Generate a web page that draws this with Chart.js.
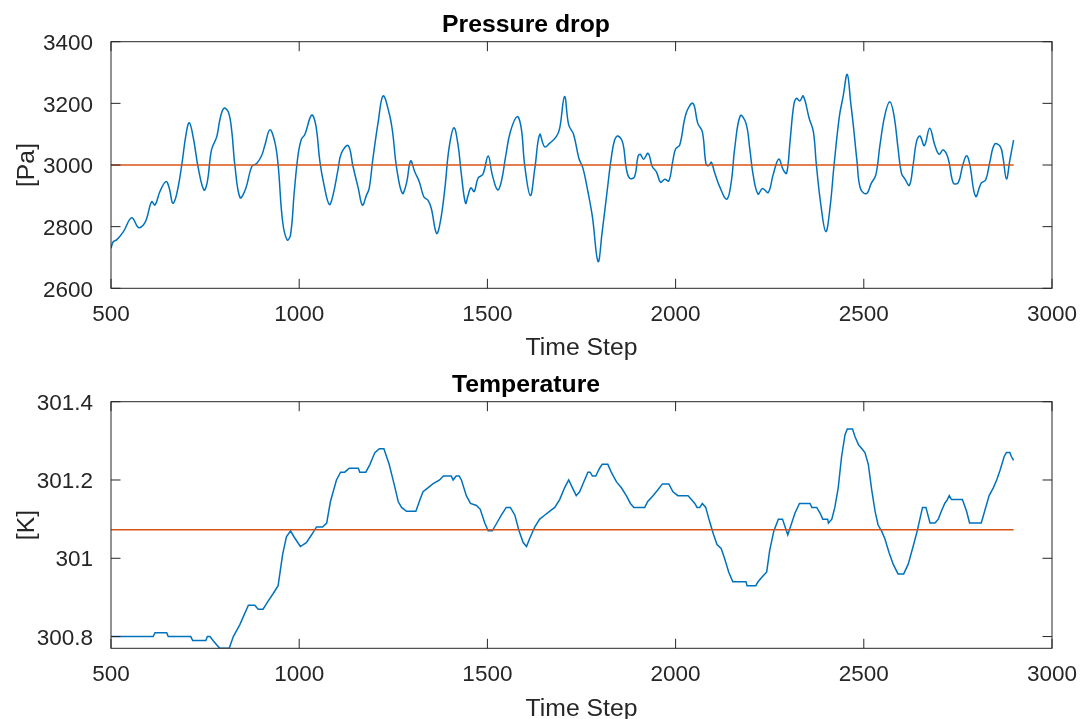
<!DOCTYPE html>
<html>
<head>
<meta charset="utf-8">
<script src="https://cdn.jsdelivr.net/npm/chart.js@4.4.1/dist/chart.umd.min.js"></script>
<style>
    body { margin: 0; background: #fff; }
    .panel { position: absolute; left: 0; width: 1081px; height: 360px; }
    #top { top: 0; }
    #bottom { top: 360px; }
</style>
</head>
<body>
<div class="panel" id="top"><canvas id="pressureChart"></canvas></div>
<div class="panel" id="bottom"><canvas id="tempChart"></canvas></div>
<script>
// time axis ticks shared by both plots
const stepTicks = [500, 1000, 1500, 2000, 2500, 3000];

// pressure drop [Pa]
const pressureSteps = [500, 506, 515, 533, 555, 573, 586, 595, 608, 617, 630, 646, 655, 664, 674, 688, 699, 708, 719, 732,
    747, 756, 767, 781, 790, 800, 812, 821, 829, 843, 858, 874, 887, 900, 909, 922, 935, 944, 956, 968,
    977, 987, 997, 1006, 1015, 1033, 1044, 1055, 1066, 1080, 1090, 1103, 1112, 1130, 1143, 1157, 1168, 1179, 1186, 1196,
    1210, 1223, 1239, 1248, 1259, 1274, 1285, 1296, 1307, 1319, 1331, 1342, 1351, 1365, 1375, 1387, 1398, 1411, 1422, 1431,
    1442, 1449, 1456, 1465, 1475, 1488, 1502, 1513, 1527, 1537, 1549, 1561, 1579, 1590, 1599, 1614, 1626, 1639, 1652, 1665,
    1683, 1692, 1705, 1716, 1729, 1743, 1754, 1767, 1779, 1794, 1805, 1818, 1829, 1838, 1847, 1860, 1869, 1878, 1891, 1900,
    1906, 1915, 1927, 1938, 1949, 1960, 1971, 1982, 1993, 2000, 2011, 2028, 2046, 2059, 2071, 2081, 2088, 2095, 2103, 2117,
    2136, 2148, 2157, 2172, 2187, 2197, 2206, 2219, 2231, 2246, 2259, 2274, 2286, 2295, 2304, 2314, 2321, 2330, 2339, 2355,
    2366, 2374, 2386, 2399, 2410, 2421, 2435, 2445, 2456, 2465, 2473, 2482, 2491, 2507, 2520, 2532, 2543, 2556, 2569, 2580,
    2591, 2600, 2609, 2621, 2631, 2640, 2649, 2661, 2675, 2689, 2700, 2711, 2724, 2738, 2751, 2763, 2773, 2781, 2797, 2812,
    2824, 2835, 2848, 2863, 2870, 2879, 2888, 2898];
const pressureVals = [2730, 2751, 2757, 2784, 2829, 2797, 2805, 2827, 2881, 2870, 2914, 2946, 2924, 2876, 2903, 3000, 3097, 3137, 3086, 2989,
    2919, 2946, 3049, 3092, 3151, 3184, 3171, 3108, 3000, 2894, 2924, 2995, 3005, 3030, 3065, 3114, 3076, 3000, 2816, 2757,
    2773, 2914, 3032, 3084, 3099, 3162, 3130, 3011, 2935, 2872, 2903, 2984, 3038, 3063, 2995, 2924, 2870, 2903, 2924, 3022,
    3141, 3224, 3168, 3108, 2989, 2908, 2941, 3013, 2978, 2946, 2897, 2886, 2859, 2778, 2816, 2924, 3054, 3121, 3065, 2968,
    2876, 2903, 2926, 2914, 2957, 2970, 3029, 2968, 2919, 2946, 3032, 3108, 3157, 3119, 3000, 2901, 2989, 3099, 3059, 3070,
    3092, 3119, 3222, 3130, 3099, 3022, 2989, 2914, 2832, 2687, 2784, 2914, 3022, 3081, 3094, 3070, 2989, 2957, 2962, 3027,
    3035, 3019, 3038, 2995, 2978, 2944, 2954, 2948, 3016, 3052, 3065, 3168, 3200, 3135, 3108, 3002, 2998, 3009, 2978, 2930,
    2889, 2946, 3054, 3160, 3135, 3054, 2968, 2906, 2924, 2911, 2968, 3019, 2984, 2973, 3076, 3195, 3216, 3208, 3224, 3151,
    3108, 3000, 2870, 2784, 2859, 3000, 3157, 3222, 3294, 3205, 3119, 3011, 2924, 2907, 2941, 2968, 3065, 3162, 3205, 3162,
    3054, 2973, 2955, 2934, 3000, 3076, 3094, 3063, 3119, 3063, 3035, 3049, 3022, 2941, 2943, 3000, 3030, 3005, 2898, 2941,
    2952, 3011, 3068, 3059, 3022, 2955, 3016, 3081];
const pressureMean = 3000;
const pressureTicks = [2600, 2800, 3000, 3200, 3400];

// temperature [K]
const tempSteps = [500, 612, 617, 648, 652, 712, 717, 752, 756, 763, 771, 780, 789, 814, 825, 842, 865, 882, 891, 904,
    917, 931, 944, 956, 966, 977, 986, 1003, 1019, 1033, 1046, 1062, 1073, 1083, 1099, 1110, 1121, 1133, 1157, 1161,
    1177, 1188, 1201, 1213, 1225, 1239, 1252, 1263, 1272, 1285, 1310, 1321, 1329, 1342, 1355, 1373, 1383, 1404, 1409, 1417,
    1425, 1431, 1444, 1455, 1471, 1481, 1493, 1502, 1513, 1522, 1537, 1550, 1561, 1573, 1584, 1595, 1604, 1612, 1626, 1639,
    1652, 1665, 1679, 1692, 1705, 1716, 1726, 1736, 1745, 1756, 1767, 1773, 1779, 1788, 1798, 1805, 1820, 1829, 1843, 1856,
    1869, 1880, 1889, 1918, 1926, 1940, 1953, 1965, 1982, 1993, 2006, 2033, 2042, 2051, 2057, 2064, 2071, 2080, 2090, 2101,
    2110, 2121, 2130, 2141, 2152, 2187, 2190, 2213, 2219, 2228, 2237, 2242, 2250, 2261, 2273, 2284, 2291, 2298, 2305, 2317,
    2329, 2357, 2362, 2375, 2384, 2391, 2404, 2406, 2415, 2423, 2432, 2441, 2450, 2456, 2470, 2477, 2486, 2495, 2503, 2512,
    2521, 2530, 2538, 2547, 2556, 2567, 2578, 2591, 2606, 2618, 2631, 2642, 2649, 2656, 2665, 2676, 2689, 2698, 2706, 2715,
    2722, 2727, 2733, 2762, 2773, 2781, 2812, 2821, 2833, 2844, 2853, 2862, 2873, 2879, 2888, 2892, 2898];
const tempVals = [300.80, 300.80, 300.81, 300.81, 300.80, 300.80, 300.79, 300.79, 300.80, 300.80, 300.79, 300.78, 300.77, 300.77, 300.80, 300.83, 300.88, 300.88, 300.87, 300.87,
    300.89, 300.91, 300.93, 301.01, 301.055, 301.07, 301.055, 301.03, 301.04, 301.06, 301.08, 301.08, 301.09, 301.145, 301.20, 301.22, 301.22, 301.23, 301.23, 301.22,
    301.22, 301.24, 301.27, 301.28, 301.28, 301.24, 301.19, 301.145, 301.13, 301.12, 301.12, 301.15, 301.17, 301.18, 301.19, 301.20, 301.21, 301.21, 301.20, 301.21,
    301.21, 301.20, 301.16, 301.14, 301.135, 301.125, 301.09, 301.07, 301.07, 301.085, 301.11, 301.13, 301.13, 301.11, 301.07, 301.04, 301.03, 301.05, 301.08, 301.10,
    301.11, 301.12, 301.13, 301.15, 301.18, 301.20, 301.18, 301.16, 301.17, 301.195, 301.22, 301.22, 301.21, 301.21, 301.23, 301.24, 301.24, 301.22, 301.195, 301.18,
    301.16, 301.14, 301.13, 301.13, 301.145, 301.16, 301.175, 301.19, 301.19, 301.17, 301.16, 301.16, 301.15, 301.14, 301.13, 301.13, 301.14, 301.13, 301.095, 301.06,
    301.035, 301.025, 301.00, 300.965, 300.94, 300.94, 300.93, 300.93, 300.94, 300.95, 300.96, 300.965, 301.02, 301.07, 301.10, 301.10, 301.08, 301.06, 301.08, 301.115,
    301.14, 301.14, 301.13, 301.13, 301.115, 301.10, 301.10, 301.09, 301.10, 301.13, 301.18, 301.26, 301.315, 301.33, 301.33, 301.31, 301.29, 301.28, 301.27, 301.24,
    301.175, 301.12, 301.085, 301.07, 301.05, 301.015, 300.985, 300.96, 300.96, 300.985, 301.03, 301.07, 301.10, 301.13, 301.13, 301.09, 301.09, 301.10, 301.12, 301.14,
    301.15, 301.16, 301.15, 301.15, 301.12, 301.09, 301.09, 301.12, 301.16, 301.18, 301.20, 301.225, 301.26, 301.27, 301.27, 301.26, 301.25];
const tempMean = 301.073;
const tempTicks = [300.8, 301, 301.2, 301.4];

const FONT = "'Liberation Sans', Arial, Helvetica, sans-serif";
const INK = '#262626';
const BLUE = '#0072BD';
const RED = '#D95319';
const TICK_LEN = 9.5;

// matlab style box with inward ticks on all four sides
const boxTicks = {
    id: 'boxTicks',
    afterDatasetsDraw(chart) {
        const { ctx, chartArea: a, scales: { x, y } } = chart;
        ctx.save();
        ctx.strokeStyle = INK;
        ctx.lineWidth = 1;
        ctx.beginPath();
        x.ticks.forEach(t => {
            const px = x.getPixelForValue(t.value);
            ctx.moveTo(px, a.bottom); ctx.lineTo(px, a.bottom - TICK_LEN);
            ctx.moveTo(px, a.top); ctx.lineTo(px, a.top + TICK_LEN);
        });
        y.ticks.forEach(t => {
            const py = y.getPixelForValue(t.value);
            ctx.moveTo(a.left, py); ctx.lineTo(a.left + TICK_LEN, py);
            ctx.moveTo(a.right, py); ctx.lineTo(a.right - TICK_LEN, py);
        });
        ctx.stroke();
        ctx.strokeRect(a.left, a.top, a.right - a.left, a.bottom - a.top);
        ctx.restore();
    }
};

function makePlot(id, cfg) {
    const series = cfg.steps.map((s, i) => ({ x: s, y: cfg.vals[i] }));
    const first = cfg.steps[0], last = cfg.steps[cfg.steps.length - 1];
    return new Chart(document.getElementById(id), {
        type: 'line',
        data: {
            datasets: [
                {
                    data: [{ x: first, y: cfg.mean }, { x: last, y: cfg.mean }],
                    borderColor: RED, borderWidth: 1.5, pointRadius: 0, order: 0
                },
                {
                    data: series,
                    borderColor: BLUE, borderWidth: 1.5, pointRadius: 0, order: 1,
                    tension: cfg.smooth ? 0.4 : 0
                }
            ]
        },
        options: {
            responsive: true,
            maintainAspectRatio: false,
            animation: false,
            layout: { padding: { left: 0, right: 29, top: 0, bottom: 0 } },
            plugins: {
                legend: { display: false },
                tooltip: { enabled: false },
                title: {
                    display: true,
                    text: cfg.title,
                    color: '#000',
                    font: { family: FONT, size: 24.75, weight: 'bold', lineHeight: 1.2 },
                    padding: { top: 10, bottom: 2 }
                }
            },
            scales: {
                x: {
                    type: 'linear',
                    min: 500, max: 3000,
                    afterBuildTicks: s => { s.ticks = stepTicks.map(v => ({ value: v })); },
                    // fixed height, and let the end labels hang into the page margin
                    afterFit: s => { s.height = 71.7; s.paddingLeft = 0; s.paddingRight = 0; },
                    grid: { display: false },
                    border: { display: false },
                    ticks: { color: INK, padding: 4.5, maxRotation: 0, font: { family: FONT, size: 22.5 }, callback: v => String(v) },
                    title: {
                        display: true, text: 'Time Step', color: INK,
                        font: { family: FONT, size: 24.75, lineHeight: 1.2 },
                        padding: { top: 0, bottom: cfg.xTitlePad }
                    }
                },
                y: {
                    min: cfg.yMin, max: cfg.yMax,
                    afterBuildTicks: s => { s.ticks = cfg.ticks.map(v => ({ value: v })); },
                    afterFit: s => { s.width = 111; s.paddingTop = 0; s.paddingBottom = 0; },
                    grid: { display: false },
                    border: { display: false },
                    ticks: { color: INK, padding: 10, labelOffset: 2, font: { family: FONT, size: 22.5 }, callback: v => String(v) },
                    title: {
                        display: true, text: cfg.unit, color: INK,
                        font: { family: FONT, size: 24.75, lineHeight: 1.2 },
                        padding: { top: 12, bottom: 0 }
                    }
                }
            }
        },
        plugins: [boxTicks]
    });
}

makePlot('pressureChart', {
    title: 'Pressure drop', unit: '[Pa]',
    steps: pressureSteps, vals: pressureVals, mean: pressureMean,
    ticks: pressureTicks, yMin: 2600, yMax: 3400, smooth: true, xTitlePad: -3
});

makePlot('tempChart', {
    title: 'Temperature', unit: '[K]',
    steps: tempSteps, vals: tempVals, mean: tempMean,
    ticks: tempTicks, yMin: 300.77, yMax: 301.4, smooth: false, xTitlePad: -4.5
});
</script>
</body>
</html>
